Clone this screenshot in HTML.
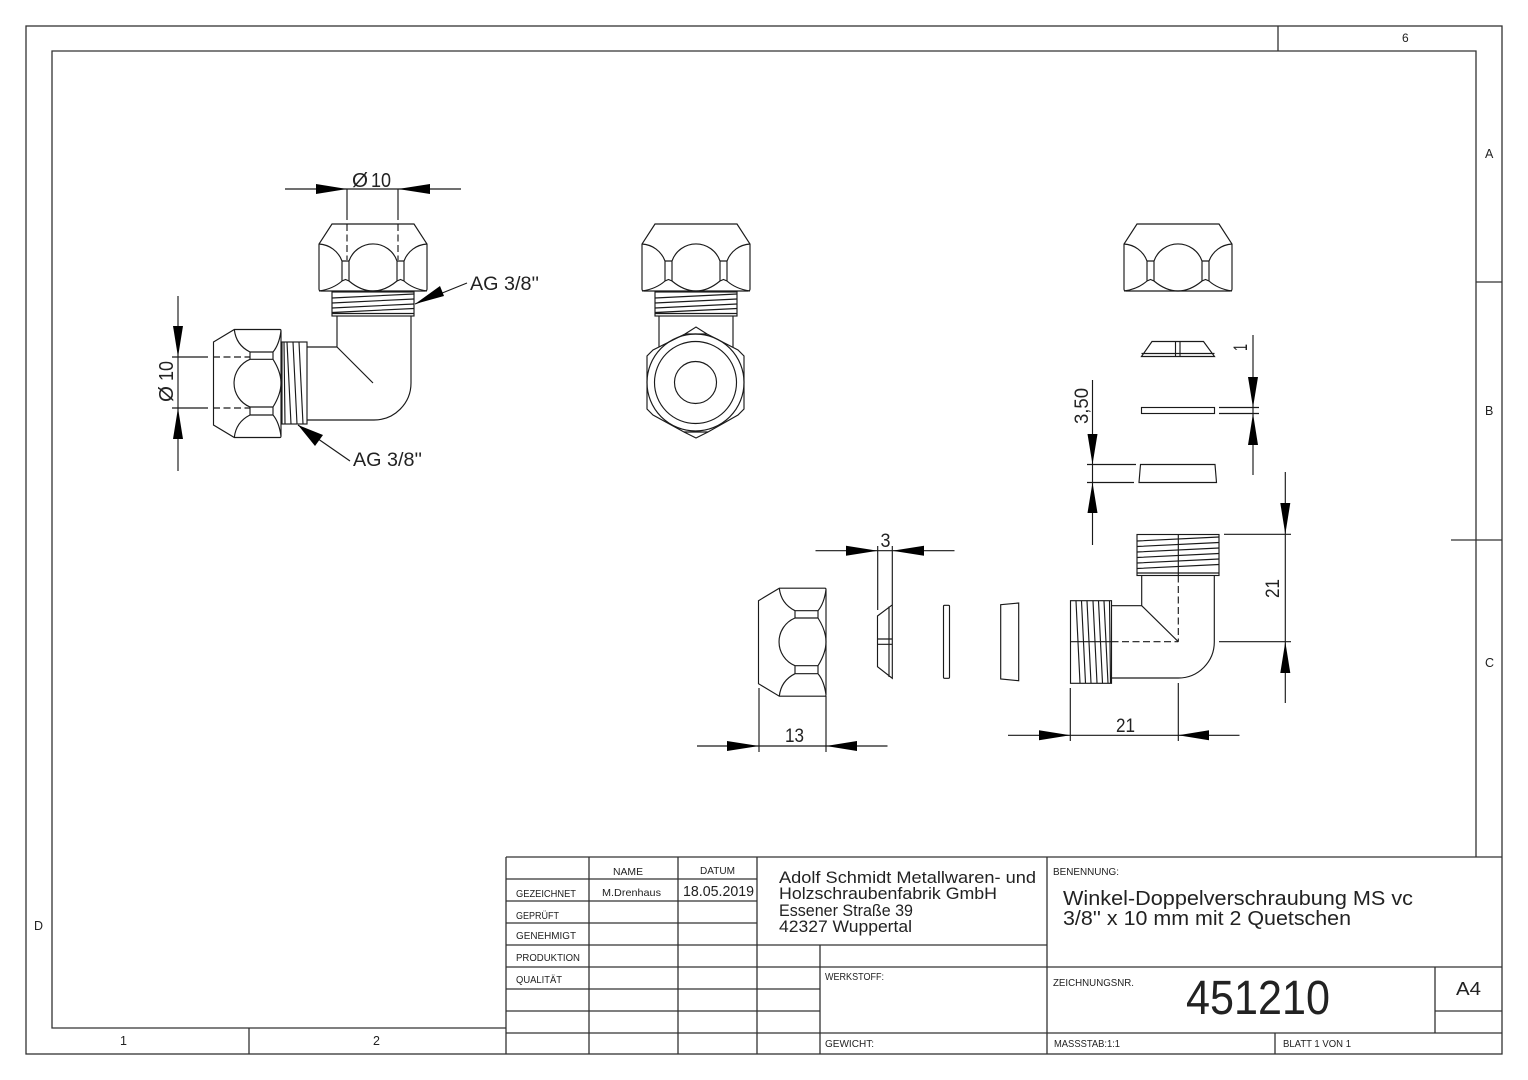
<!DOCTYPE html>
<html><head><meta charset="utf-8"><style>
html,body{margin:0;padding:0;background:#fff}
svg{display:block}
text{font-family:"Liberation Sans","DejaVu Sans",sans-serif;fill:#222}
.l{fill:none;stroke:#1a1a1a;stroke-width:1.15}
.f{fill:none;stroke:#333;stroke-width:1.3}
.d{stroke-dasharray:7 3.5}
.a{fill:#000;stroke:none}
</style></head><body>
<svg width="1528" height="1080" viewBox="0 0 1528 1080" xmlns="http://www.w3.org/2000/svg">
<defs>
<g id="nut" class="l">
<path d="M-41,224H41L54,244V289Q54,291 52,291H-52Q-54,291 -54,289V244Z"/>
<path d="M-54,244A26,26 0 0 1 -31,261V281M-24,261A25.4,25.4 0 0 1 24,261V281M31,281V261A26,26 0 0 1 54,244M-24,261V281M-31,261H-24M24,261H31M31,261V281"/>
<path d="M-54,291Q-40,289 -31,281L-27.5,279.5L-24,281Q-12,291 0,291Q12,291 24,281L27.5,279.5L31,281Q40,289 54,291"/>
</g>
<g id="thr" class="l">
<rect x="332" y="292" width="82" height="24"/>
<path d="M332,298L414,294M332,303L414,299M332,308L414,304M332,312.5L414,308.5M332,313.5H414"/>
</g>
<g id="nutside" class="l">
<path d="M213.5,342L234.3,329.5H280Q281,329.5 281,331V436Q281,437.5 280,437.5H234.3L213.5,425Z"/>
<path d="M234.3,329.5Q236,345 250,352H273Q279,345 281,331M250,352V359.3H273V352M250,359.3A25.8,25.8 0 0 0 250,407M273,359.3Q281,372 281,383Q281,394 273,407M250,407V415H273V407M250,407H273M250,415Q236,422 234.3,437.5M273,415Q279,422 281,436"/>
</g>
</defs>

<!-- frame -->
<g class="f">
<rect x="26" y="26" width="1476" height="1028"/>
<path d="M52,857V51H1476V857M52,857V1028H506"/>
<path d="M1278,26V51M1476,282H1502M1451,540H1502M249,1028V1054"/>
</g>
<g class="f">
<path d="M506,857H1502M506,879H757M506,901H757M506,923H757M506,945H1047M506,967H1502M506,989H820M506,1011H820M506,1033H1502M1435,1011H1502"/>
<path d="M506,857V1054M589,857V1054M678,857V1054M757,857V1054M820,945V1054M1047,857V1054M1435,967V1033M1275,1033V1054"/>
</g>

<!-- border labels -->
<text x="1402" y="42" font-size="12" textLength="8">6</text>
<text x="1485" y="158" font-size="12.5" textLength="10">A</text>
<text x="1485" y="415" font-size="12.5" textLength="9">B</text>
<text x="1485" y="667" font-size="12.5" textLength="10">C</text>
<text x="34" y="930" font-size="12.5" textLength="10">D</text>
<text x="120" y="1045" font-size="12.5" textLength="5">1</text>
<text x="373" y="1045" font-size="12.5" textLength="8">2</text>

<!-- title block text -->
<g font-size="10.5">
<text x="613" y="875" textLength="30" lengthAdjust="spacingAndGlyphs">NAME</text>
<text x="700" y="874" textLength="35" lengthAdjust="spacingAndGlyphs">DATUM</text>
<text x="516" y="897" textLength="60" lengthAdjust="spacingAndGlyphs">GEZEICHNET</text>
<text x="602" y="896" textLength="59" lengthAdjust="spacingAndGlyphs">M.Drenhaus</text>
<text x="516" y="919" textLength="43" lengthAdjust="spacingAndGlyphs">GEPRÜFT</text>
<text x="516" y="939" textLength="60" lengthAdjust="spacingAndGlyphs">GENEHMIGT</text>
<text x="516" y="961" textLength="64" lengthAdjust="spacingAndGlyphs">PRODUKTION</text>
<text x="516" y="983" textLength="46" lengthAdjust="spacingAndGlyphs">QUALITÄT</text>
<text x="825" y="980" textLength="59" lengthAdjust="spacingAndGlyphs">WERKSTOFF:</text>
<text x="825" y="1047" textLength="49" lengthAdjust="spacingAndGlyphs">GEWICHT:</text>
<text x="1053" y="875" textLength="66" lengthAdjust="spacingAndGlyphs">BENENNUNG:</text>
<text x="1053" y="986" textLength="81" lengthAdjust="spacingAndGlyphs">ZEICHNUNGSNR.</text>
<text x="1054" y="1047" textLength="66" lengthAdjust="spacingAndGlyphs">MASSSTAB:1:1</text>
<text x="1283" y="1047" textLength="68" lengthAdjust="spacingAndGlyphs">BLATT 1 VON 1</text>
</g>
<text x="683" y="896" font-size="15" textLength="71" lengthAdjust="spacingAndGlyphs">18.05.2019</text>
<g font-size="17">
<text x="779" y="883" textLength="257" lengthAdjust="spacingAndGlyphs">Adolf Schmidt Metallwaren- und</text>
<text x="779" y="899" textLength="218" lengthAdjust="spacingAndGlyphs">Holzschraubenfabrik GmbH</text>
<text x="779" y="916" textLength="134" lengthAdjust="spacingAndGlyphs">Essener Straße 39</text>
<text x="779" y="932" textLength="133" lengthAdjust="spacingAndGlyphs">42327 Wuppertal</text>
</g>
<g font-size="20">
<text x="1063" y="905" textLength="350" lengthAdjust="spacingAndGlyphs">Winkel-Doppelverschraubung MS vc</text>
<text x="1063" y="925" textLength="288" lengthAdjust="spacingAndGlyphs">3/8'' x 10 mm mit 2 Quetschen</text>
</g>
<text x="1186" y="1014" font-size="48" fill="#111" textLength="144" lengthAdjust="spacingAndGlyphs">451210</text>
<text x="1456" y="995" font-size="18" textLength="25" lengthAdjust="spacingAndGlyphs">A4</text>

<!-- VIEW 1 -->
<use href="#nut" x="373"/>
<use href="#thr"/>
<g class="l">
<path d="M337,316V347H307M411,316V383A37,37 0 0 1 374,420H307M337,347L373,383"/>
<rect x="282" y="342" width="25" height="82"/>
<path d="M284,342L285,424M287,342L291,424M293,342L297,424M299,342L303,424"/>
<path d="M285,189H461M347,189V220M398,189V220M178,296V471M172,357H208M172,408H208"/>
<path class="l d" d="M347,224V260M398,224V260M213,357H250M213,408H250"/>
<path d="M467,283L415,304M350,461L298,425"/>
</g>
<use href="#nutside"/>
<polygon class="a" points="347,189 316,184 316,194"/>
<polygon class="a" points="398,189 430,184 430,194"/>
<polygon class="a" points="178,357 173,326 183,326"/>
<polygon class="a" points="178,408 173,439 183,439"/>
<polygon class="a" points="415,304 440,286 444,296"/>
<polygon class="a" points="298,425 323,435 315,446"/>
<text x="352" y="187" font-size="20" textLength="16" lengthAdjust="spacingAndGlyphs">Ø</text>
<text x="371" y="187" font-size="20" textLength="20" lengthAdjust="spacingAndGlyphs">10</text>
<text transform="translate(173,402) rotate(-90)" font-size="20" textLength="16" lengthAdjust="spacingAndGlyphs">Ø</text>
<text transform="translate(173,381) rotate(-90)" font-size="20" textLength="20" lengthAdjust="spacingAndGlyphs">10</text>
<text x="470" y="290" font-size="19" textLength="69" lengthAdjust="spacingAndGlyphs">AG 3/8''</text>
<text x="353" y="466" font-size="19" textLength="69" lengthAdjust="spacingAndGlyphs">AG 3/8''</text>

<!-- VIEW 2 -->
<use href="#nut" x="696"/>
<use href="#thr" x="323"/>
<g class="l">
<path d="M659,316V347M733,316V347"/>
<path style="fill:#fff" d="M685,334L696,327L707,334L738,350L744,356V409L738,415L708,432L696,438L684,432L653,415L647,409V356L653,350Z"/>
<path d="M685,334H707M684,432H708"/>
<circle cx="695.5" cy="382.5" r="48.5"/>
<circle cx="695.5" cy="382.5" r="41"/>
<circle cx="695.5" cy="382.5" r="21"/>
</g>

<!-- VIEW 3 exploded -->
<use href="#nut" x="1178"/>
<g class="l">
<path d="M1141.5,356.5L1152,341.5H1203.5L1214.5,356.5ZM1141.5,353.5H1214.5M1175.5,341.5V356.5M1180,341.5V356.5"/>
<rect x="1141.5" y="407.5" width="73" height="6"/>
<path d="M1140.5,464.5H1215L1216.5,482.5H1139Z"/>
<path d="M1253,335V475M1219,407.5H1259M1219,413.5H1259M1092.5,380V545M1087,464.5H1136M1087,482.5H1134"/>
</g>
<polygon class="a" points="1253,407.5 1248,377 1258,377"/>
<polygon class="a" points="1253,413.5 1248,445 1258,445"/>
<polygon class="a" points="1092.5,464.5 1087.5,434 1097.5,434"/>
<polygon class="a" points="1092.5,482.5 1087.5,513 1097.5,513"/>
<text transform="translate(1247,351) rotate(-90)" font-size="19" textLength="7" lengthAdjust="spacingAndGlyphs">1</text>
<text transform="translate(1088,424) rotate(-90)" font-size="19" textLength="36" lengthAdjust="spacingAndGlyphs">3,50</text>

<!-- VIEW 4 elbow -->
<g class="l">
<rect x="1137" y="534.5" width="82" height="41"/>
<path d="M1137,541L1219,537M1137,546.5L1219,542.5M1137,552L1219,548M1137,557.5L1219,553.5M1137,563L1219,559M1137,568.5L1219,564.5M1137,573H1219"/>
<path d="M1178.3,534.5V575.5"/>
<path class="l d" d="M1178.3,575.5V641.7M1111.5,641.7H1178.3"/>
<path d="M1141.7,575.5V605.7H1111.5M1214.3,575.5V641.7A36,36 0 0 1 1178.3,678H1111.5M1141.7,605.7L1178.3,641.7"/>
<rect x="1070.5" y="600.7" width="41" height="82.6"/>
<path d="M1076,601L1080,683M1081.5,601L1085.5,683M1087,601L1091,683M1093,601L1097,683M1098.5,601L1102.5,683M1104,601L1108,683M1109.5,601L1110.5,683"/>
<path d="M1070.5,641.7H1111.5"/>
<path d="M1285.3,472V703M1224,534.3H1291M1219,641.7H1291M1008,735.3H1239.5M1070.3,688V741M1178.3,683V741"/>
</g>
<polygon class="a" points="1285.3,534.3 1280.3,503 1290.3,503"/>
<polygon class="a" points="1285.3,641.7 1280.3,673 1290.3,673"/>
<polygon class="a" points="1070.3,735.3 1039,730.3 1039,740.3"/>
<polygon class="a" points="1178.3,735.3 1209,730.3 1209,740.3"/>
<text transform="translate(1279,598) rotate(-90)" font-size="19" textLength="19" lengthAdjust="spacingAndGlyphs">21</text>
<text x="1116" y="732" font-size="19" textLength="19" lengthAdjust="spacingAndGlyphs">21</text>

<!-- VIEW 5 exploded horizontal -->
<use href="#nutside" x="545" y="258.7"/>
<g class="l">
<path d="M877.5,616L891.7,605.3H892.3V678.3L877.5,666.7ZM889,606.5V677M877.5,639H892.3M877.5,644.3H892.3"/>
<rect x="943.5" y="605.3" width="6" height="73" rx="1"/>
<path d="M1000.7,604.7L1018.7,603V680.7L1000.7,679Z"/>
<path d="M815.5,550.7H954.5M877.7,546V610M892.3,546V605M697,746H887.5M759,688V752M826,696V752"/>
</g>
<polygon class="a" points="877.7,550.7 846,545.7 846,555.7"/>
<polygon class="a" points="892.3,550.7 924,545.7 924,555.7"/>
<polygon class="a" points="759,746 727,741 727,751"/>
<polygon class="a" points="826,746 857,741 857,751"/>
<text x="880.5" y="547" font-size="19" textLength="10" lengthAdjust="spacingAndGlyphs">3</text>
<text x="785" y="742" font-size="19" textLength="19" lengthAdjust="spacingAndGlyphs">13</text>
</svg>
</body></html>
